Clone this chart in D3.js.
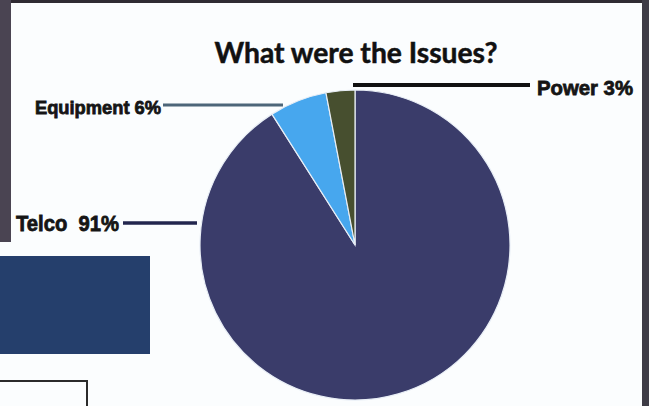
<!DOCTYPE html>
<html>
<head>
<meta charset="utf-8">
<script src="https://cdn.jsdelivr.net/npm/d3@7"></script>
<style>
  html, body { margin: 0; padding: 0; background: #fbfdfe; }
  #chart { width: 649px; height: 406px; overflow: hidden; }
</style>
</head>
<body>
<div id="chart"></div>
<script>
// Chart data
var categories = ["Telco", "Equipment", "Power"];
var values = [91, 6, 3];
var labels = ["Telco  91%", "Equipment 6%", "Power 3%"];
var colors = ["#3a3c6a", "#47a7ee", "#474f2f"];
var lineColors = ["#23264e", "#4d6679", "#111111"];
var title = "What were the Issues?";

window.onload = function() {
    drawChart();
};

function drawChart() {
    var w = 649;
    var h = 406;
    var cx = 355, cy = 245, r = 155;

    var svg = d3.select("#chart")
                .append("svg")
                .attr("width", w)
                .attr("height", h);

    // slide frame bits from the photo
    svg.append("rect").attr("x", 0).attr("y", 0).attr("width", w).attr("height", 3).attr("fill", "#2f2b33");
    svg.append("rect").attr("x", 0).attr("y", 0).attr("width", 11).attr("height", 242).attr("fill", "#4a4452");
    svg.append("rect").attr("x", 642).attr("y", 0).attr("width", 7).attr("height", h).attr("fill", "#3e3c46");
    svg.append("rect").attr("x", 0).attr("y", 256).attr("width", 150).attr("height", 98).attr("fill", "#253f6c");
    svg.append("rect").attr("x", -2).attr("y", 381).attr("width", 89).attr("height", 40)
       .attr("fill", "none").attr("stroke", "#2b2b2b").attr("stroke-width", 2);

    // title
    svg.append("text")
       .attr("x", 356)
       .attr("y", 63)
       .attr("text-anchor", "middle")
       .attr("font-family", "Lato, sans-serif")
       .attr("font-weight", "bold")
       .attr("font-size", 28)
       .attr("textLength", 283)
       .attr("lengthAdjust", "spacingAndGlyphs")
       .attr("fill", "#111")
       .attr("stroke", "#111")
       .attr("stroke-width", 0.5)
       .text(title);

    // pie
    var data = categories.map(function(c, i) { return { name: c, value: values[i] }; });
    var pie = d3.pie().sort(null).value(function(d) { return d.value; });
    var arc = d3.arc().innerRadius(0).outerRadius(r);

    svg.append("g")
       .attr("transform", "translate(" + cx + "," + cy + ")")
       .selectAll("path")
       .data(pie(data))
       .enter()
       .append("path")
       .attr("d", arc)
       .attr("fill", function(d, i) { return colors[i]; })
       .attr("stroke", "#e8eef6")
       .attr("stroke-width", 1.2);

    // label layout: text position, line y, line start/end x
    var layout = [
        { tx: 16, ty: 231, size: 22, len: 103, ly: 223, x1: 123, x2: 197, sw: 3.5 },
        { tx: 35, ty: 114, size: 19, len: 126, ly: 105, x1: 163, x2: 283, sw: 3 },
        { tx: 537, ty: 95, size: 21, len: 96, ly: 85, x1: 353, x2: 530, sw: 4 }
    ];

    svg.selectAll("line.leader")
       .data(layout)
       .enter()
       .append("line")
       .attr("class", "leader")
       .attr("x1", function(d) { return d.x1; })
       .attr("x2", function(d) { return d.x2; })
       .attr("y1", function(d) { return d.ly; })
       .attr("y2", function(d) { return d.ly; })
       .attr("stroke", function(d, i) { return lineColors[i]; })
       .attr("stroke-width", function(d) { return d.sw; });

    svg.selectAll("text.label")
       .data(layout)
       .enter()
       .append("text")
       .attr("class", "label")
       .attr("x", function(d) { return d.tx; })
       .attr("y", function(d) { return d.ty; })
       .attr("font-family", "'Liberation Sans', Arial, sans-serif")
       .attr("font-weight", "bold")
       .attr("font-size", function(d) { return d.size; })
       .attr("textLength", function(d) { return d.len; })
       .attr("lengthAdjust", "spacingAndGlyphs")
       .attr("fill", "#151515")
       .attr("stroke", "#151515")
       .attr("stroke-width", 0.8)
       .style("white-space", "pre")
       .text(function(d, i) { return labels[i]; });
}
</script>
</body>
</html>
